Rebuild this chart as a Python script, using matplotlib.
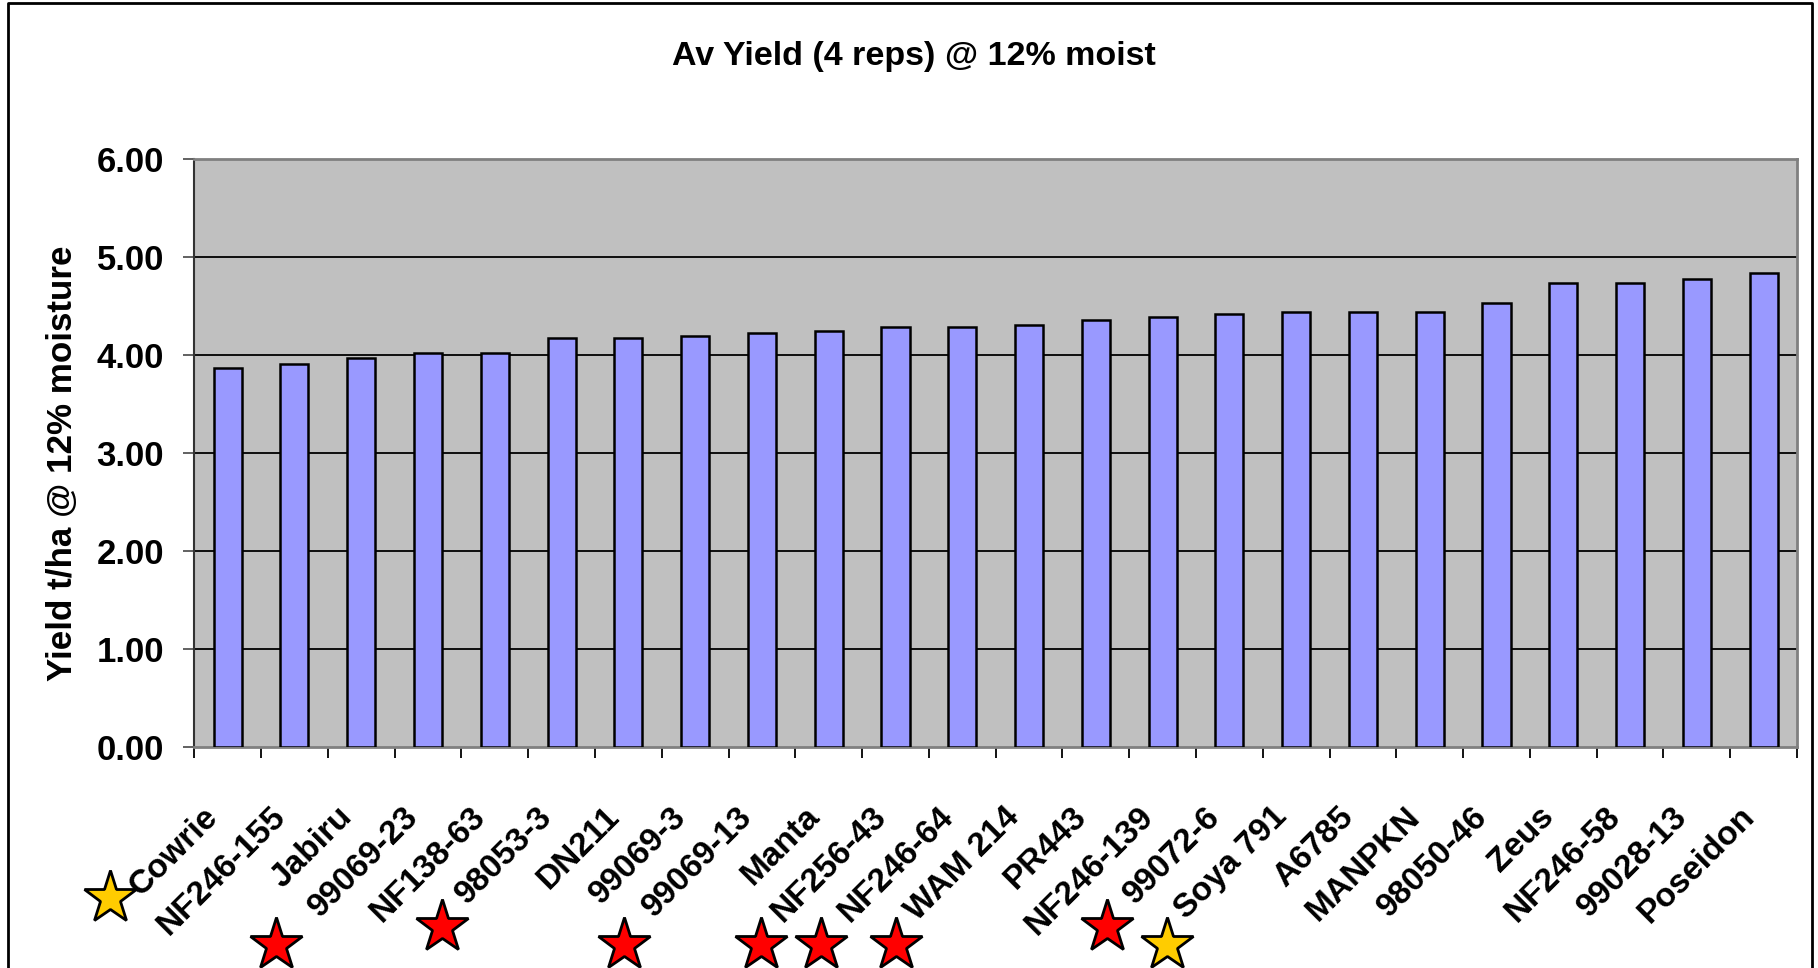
import matplotlib
matplotlib.use("Agg")
import matplotlib.pyplot as plt
import matplotlib.transforms as mtransforms
import numpy as np
from matplotlib.lines import Line2D

plt.rcParams['font.family'] = ['Liberation Sans', 'DejaVu Sans']
plt.rcParams['font.weight'] = 'bold'

# data
varieties = ['Cowrie', 'NF246-155', 'Jabiru', '99069-23', 'NF138-63', '98053-3',
             'DN211', '99069-3', '99069-13', 'Manta', 'NF256-43', 'NF246-64',
             'WAM 214', 'PR443', 'NF246-139', '99072-6', 'Soya 791', 'A6785',
             'MANPKN', '98050-46', 'Zeus', 'NF246-58', '99028-13', 'Poseidon']
yields = [3.87, 3.91, 3.97, 4.02, 4.02, 4.17, 4.17, 4.19, 4.22, 4.24, 4.28, 4.28,
          4.30, 4.35, 4.39, 4.42, 4.44, 4.44, 4.44, 4.53, 4.73, 4.73, 4.77, 4.83]
y_ticks = [0, 1, 2, 3, 4, 5, 6]

# star markers drawn on the slide (figure pixel positions, colour)
star_x = [110, 276, 442, 624, 761, 821, 896, 1107, 1167]
star_y = [898, 945, 927, 945, 945, 945, 945, 927, 945]
star_c = ['#FFCC00', 'red', 'red', 'red', 'red', 'red', 'red', 'red', '#FFCC00']

W, H = 1818, 968
fig = plt.figure(figsize=(W / 100, H / 100), dpi=100)
fig.patch.set_facecolor('white')

ax = fig.add_axes([194.3 / W, 1 - 746.7 / H, (1797 - 194.3) / W, (746.7 - 158.8) / H])
ax.set_facecolor('#C0C0C0')

x = np.arange(len(varieties))
ax.bar(x, yields, width=0.42, color='#9999FF', edgecolor='black', linewidth=1.8, zorder=3)

ax.set_xlim(-0.5, len(varieties) - 0.5)
ax.set_ylim(0, 6)
ax.set_yticks(y_ticks)
ax.set_yticklabels(['%.2f' % v for v in y_ticks], fontsize=25, fontweight='bold')
for v in y_ticks[1:-1]:
    ax.axhline(v, color='black', lw=1.3, zorder=1)

ax.set_xticks(x)
ax.set_xticklabels(varieties, rotation=45, ha='right', va='center',
                   rotation_mode='anchor', fontsize=24, fontweight='bold')
ax.tick_params(axis='x', which='major', length=0, pad=47)
shift = mtransforms.ScaledTranslation(-0.14, 0, fig.dpi_scale_trans)
for lab in ax.get_xticklabels():
    lab.set_transform(lab.get_transform() + shift)
ax.set_xticks(np.arange(len(varieties) + 1) - 0.5, minor=True)
ax.tick_params(axis='x', which='minor', length=8, width=1.3, color='black')
ax.tick_params(axis='y', length=8, width=1.3, color='#555555', pad=13.8)

for s in ['top', 'right', 'bottom']:
    ax.spines[s].set_color('#808080')
    ax.spines[s].set_linewidth(2)
ax.spines['left'].set_color('#333333')
ax.spines['left'].set_linewidth(1.5)

ax.set_ylabel('Yield t/ha @ 12% moisture', fontsize=25.2, fontweight='bold')
ax.yaxis.set_label_coords(-0.0722, 0.4825)

fig.text(914 / W, 1 - 56 / H, 'Av Yield (4 reps) @ 12% moist', ha='center', va='center',
         fontsize=24.5, fontweight='bold')

# outer chart frame
fig.add_artist(Line2D([8 / W, 8 / W, 1812 / W, 1812 / W], [0, 1 - 3 / H, 1 - 3 / H, 0],
                      transform=fig.transFigure, color='black', lw=2))

for sx, sy, sc in zip(star_x, star_y, star_c):
    fig.add_artist(Line2D([sx / W], [1 - sy / H], transform=fig.transFigure, marker='*',
                          markersize=40, markerfacecolor=sc, markeredgecolor='black',
                          markeredgewidth=2, linestyle='none'))

fig.savefig('out.png', dpi=100)
